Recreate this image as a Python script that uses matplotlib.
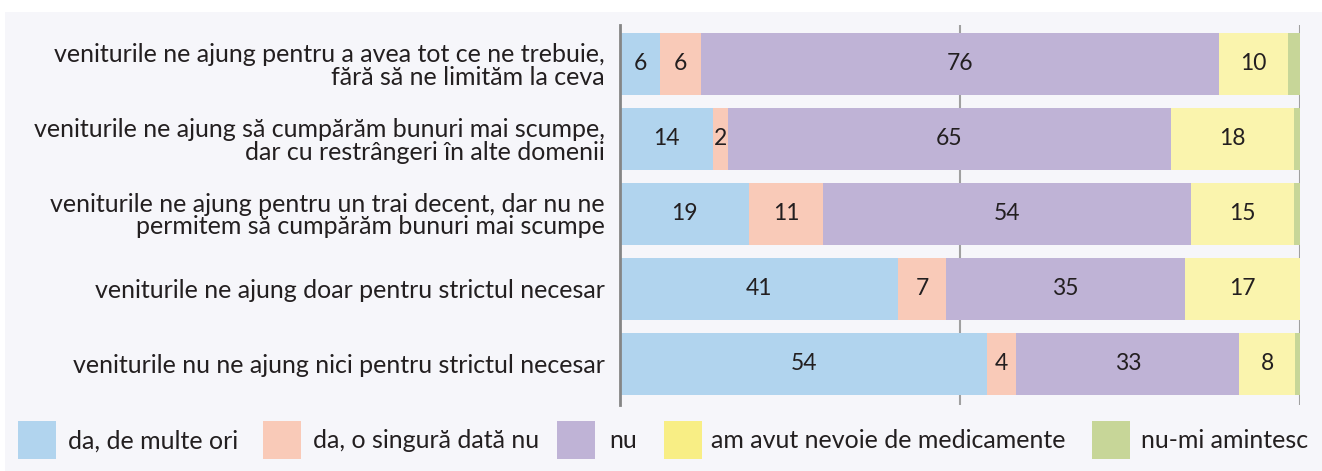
import matplotlib
matplotlib.use("Agg")
import matplotlib.pyplot as plt
from matplotlib.patches import Rectangle
import numpy as np

categories = [
    "veniturile ne ajung pentru a avea tot ce ne trebuie,\nfără să ne limităm la ceva",
    "veniturile ne ajung să cumpărăm bunuri mai scumpe,\ndar cu restrângeri în alte domenii",
    "veniturile ne ajung pentru un trai decent, dar nu ne\npermitem să cumpărăm bunuri mai scumpe",
    "veniturile ne ajung doar pentru strictul necesar",
    "veniturile nu ne ajung nici pentru strictul necesar",
]
series_names = ["da, de multe ori", "da, o singură dată nu", "nu",
                "am avut nevoie de medicamente", "nu-mi amintesc"]
da_multe = [5.9, 13.7, 19.0, 40.9, 54.0]
da_odata = [6.0, 2.2, 10.9, 7.1, 4.3]
nu = [76.2, 65.1, 54.1, 35.1, 32.8]
medicamente = [10.1, 18.1, 15.1, 16.9, 8.1]
nu_amintesc = [1.8, 0.9, 0.9, 0.0, 0.8]
series_values = [da_multe, da_odata, nu, medicamente, nu_amintesc]
show_labels = [True, True, True, True, False]

colors = ["#b1d4ee", "#f9cab8", "#bfb3d6", "#faf4ad", "#c7d698"]
legend_colors = ["#b1d4ee", "#f9cab8", "#bfb3d6", "#f8ee85", "#c7d698"]
bg = "#f6f6fa"
FONT = "Lato"
TXT = "#231f20"

W, H = 1322, 471
fig = plt.figure(figsize=(W / 100, H / 100), dpi=100)
fig.patch.set_facecolor("white")
fig.patches.append(Rectangle((5 / W, 0), 1, 1 - 12 / H, transform=fig.transFigure,
                             facecolor=bg, edgecolor="none", zorder=-10))

ax = fig.add_axes([620 / W, (H - 405) / H, 680 / W, 380 / H])
ax.set_facecolor("none")
y = np.arange(len(categories))
left = np.zeros(len(categories))
for vals, col, lab in zip(series_values, colors, show_labels):
    vals = np.array(vals)
    ax.barh(y, vals, left=left, height=0.83, color=col, edgecolor="none", zorder=2)
    if lab:
        for yi, l, v in zip(y, left, vals):
            if v > 0:
                ax.text(l + v / 2, yi, f"{v:.0f}", ha="center", va="center",
                        fontsize=16.5, color=TXT, family=FONT, zorder=3)
    left += vals

ax.set_xlim(0, 100)
ax.set_ylim(4.55, -0.52)
ax.set_yticks(y)
ax.set_yticklabels(categories, family=FONT, fontsize=18, color=TXT,
                   linespacing=0.98, ha="right")
ax.tick_params(axis="y", length=0, pad=11)
ax.set_xticks([])
for s in ["top", "right", "bottom"]:
    ax.spines[s].set_visible(False)
ax.spines["left"].set_color("#858585")
ax.spines["left"].set_linewidth(2)
for gx in [50, 100]:
    ax.axvline(gx, color="#a0a0a0", lw=1.5, zorder=1)

# legend (layout positions in pixels)
patch_x = [18, 263, 557, 664, 1092]
text_x = [68, 313, 609, 711, 1141]
for px, tx, name, col in zip(patch_x, text_x, series_names, legend_colors):
    fig.patches.append(Rectangle((px / W, (H - 459) / H), 38 / W, 38 / H,
                                 transform=fig.transFigure, facecolor=col, edgecolor="none"))
    fig.text(tx / W, (H - 441) / H, name, ha="left", va="center",
             fontsize=18, color=TXT, family=FONT)

fig.savefig("out.png", dpi=100, facecolor=fig.get_facecolor())
